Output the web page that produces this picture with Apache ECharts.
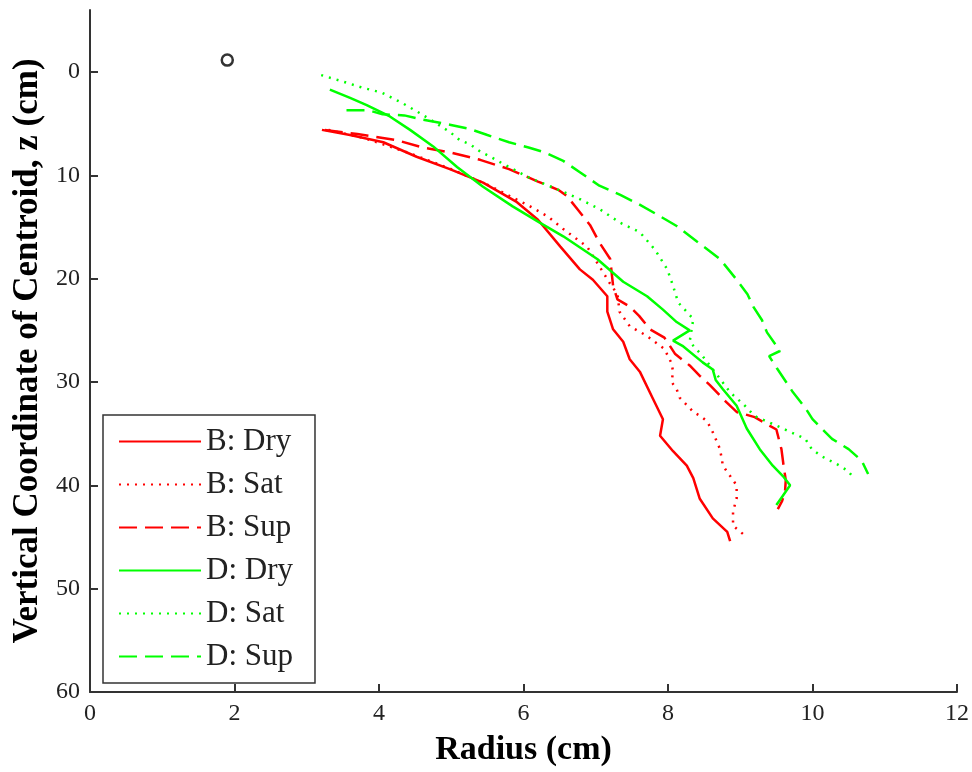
<!DOCTYPE html>
<html>
<head>
<meta charset="utf-8">
<script src="https://cdn.jsdelivr.net/npm/echarts@6/dist/echarts.min.js"></script>
<style>
html,body{margin:0;padding:0;background:#fff;}
#chart{width:972px;height:772px;}
</style>
</head>
<body>
<div id="chart"></div>
<script>
// Data: [radius (cm), vertical coordinate z (cm)]
const seriesNames = ['B: Dry', 'B: Sat', 'B: Sup', 'D: Dry', 'D: Sat', 'D: Sup'];

const bDry = [[3.21,5.6],[3.6,6.1],[4.06,6.8],[4.52,8.2],[4.98,9.4],[5.44,10.7],[5.91,12.6],[6.2,14.3],[6.51,16.9],[6.78,19.1],[6.96,20.1],[7.16,21.7],[7.16,23.2],[7.24,24.9],[7.38,26.1],[7.47,27.8],[7.61,29.0],[7.79,31.6],[7.93,33.6],[7.89,35.2],[8.07,36.7],[8.26,38.1],[8.35,39.3],[8.44,41.3],[8.62,43.2],[8.82,44.5],[8.86,45.4]];

const bSat = [[3.3,5.6],[3.8,6.4],[4.4,7.8],[5.0,9.4],[5.5,10.9],[5.81,12.0],[6.09,13.0],[6.34,14.0],[6.55,15.2],[6.88,16.9],[7.05,18.8],[7.2,20.5],[7.3,21.5],[7.33,23.2],[7.47,24.6],[7.7,25.5],[7.95,26.8],[8.05,28.2],[8.07,29.0],[8.05,30.0],[8.12,30.7],[8.16,31.5],[8.27,32.3],[8.35,32.9],[8.45,33.3],[8.54,33.8],[8.61,34.7],[8.72,36.5],[8.76,38.1],[8.86,39.1],[8.95,40.0],[8.95,41.3],[8.9,42.5],[8.9,43.9],[9.07,44.9]];

const bSup = [[3.25,5.6],[3.7,6.0],[4.25,6.6],[4.6,7.3],[5.0,7.8],[5.4,8.5],[5.8,9.4],[6.2,10.6],[6.48,11.4],[6.6,12.0],[6.75,13.3],[6.92,14.8],[7.05,16.5],[7.2,18.1],[7.24,20.7],[7.3,22.0],[7.47,22.7],[7.6,23.6],[7.75,24.9],[7.95,25.7],[8.1,27.3],[8.3,28.4],[8.44,29.4],[8.58,30.3],[8.8,31.9],[8.95,32.9],[9.2,33.4],[9.5,34.6],[9.57,36.5],[9.6,38.1],[9.63,39.5],[9.62,40.6],[9.58,41.5],[9.52,42.3]];

const dDry = [[3.32,1.7],[3.6,2.5],[3.83,3.2],[4.15,4.3],[4.43,5.6],[4.75,7.2],[5.08,9.2],[5.44,11.1],[5.85,13.0],[6.23,14.6],[6.55,15.9],[7.02,18.1],[7.38,20.3],[7.71,21.7],[7.93,23.0],[8.12,24.2],[8.3,25.0],[8.07,26.0],[8.2,26.5],[8.48,28.1],[8.62,28.8],[8.66,29.8],[8.76,30.7],[8.95,32.3],[9.09,34.5],[9.27,36.5],[9.45,38.1],[9.59,39.1],[9.69,40.0],[9.59,41.0],[9.5,41.9]];

const dSat = [[3.2,0.3],[3.49,0.9],[3.76,1.5],[4.04,2.0],[4.32,3.0],[4.57,4.0],[4.8,5.0],[4.98,5.8],[5.12,6.6],[5.26,7.0],[5.4,7.7],[5.54,8.2],[5.8,9.2],[6.1,10.3],[6.45,11.3],[6.78,12.3],[7.06,13.3],[7.34,14.6],[7.61,15.5],[7.82,17.2],[7.99,19.1],[8.07,20.7],[8.14,22.3],[8.35,23.9],[8.3,26.1],[8.48,27.5],[8.7,29.5],[8.86,31.0],[9.05,32.2],[9.2,33.3],[9.59,34.5],[9.9,35.5],[9.99,36.5],[10.13,37.2],[10.35,38.0],[10.49,38.6],[10.56,39.2]];

const dSup = [[3.55,3.7],[3.85,3.7],[4.05,4.1],[4.35,4.2],[4.6,4.6],[4.98,5.1],[5.25,5.5],[5.5,6.1],[5.8,6.8],[6.07,7.3],[6.3,7.8],[6.55,8.6],[6.78,9.7],[7.05,11.0],[7.34,11.9],[7.6,12.8],[7.85,13.8],[8.12,14.9],[8.4,16.4],[8.72,18.1],[8.95,20.1],[9.1,21.5],[9.18,22.7],[9.3,24.0],[9.37,25.2],[9.55,27.0],[9.4,27.5],[9.51,28.7],[9.73,31.0],[9.9,32.5],[10.0,33.6],[10.27,35.5],[10.5,36.5],[10.68,37.6],[10.77,38.9]];

const marker = [[1.9,-1.15]];

const xTicks = [0, 2, 4, 6, 8, 10, 12];
const zTicks = [0, 10, 20, 30, 40, 50, 60];

const RED = '#ff0000', GREEN = '#00ff00';
const SERIF = "'Liberation Serif','DejaVu Serif',serif";

function lineSeries(name, data, color, type) {
  return {
    name: name, type: 'line', data: data,
    symbol: 'none', showSymbol: false, smooth: false,
    lineStyle: {color: color, width: 2.5, type: type},
    itemStyle: {color: color},
    z: 3
  };
}
const DOT = [2, 6];
const DASH = [18, 8];

const chart = echarts.init(document.getElementById('chart'), null, {renderer: 'canvas'});
chart.setOption({
  animation: false,
  backgroundColor: '#fff',
  grid: {left: 90, right: 15, top: 10, bottom: 78, containLabel: false},
  xAxis: {
    type: 'value', min: xTicks[0], max: xTicks[xTicks.length - 1], interval: 2,
    name: 'Radius (cm)', nameLocation: 'middle', nameGap: 41,
    nameTextStyle: {fontFamily: SERIF, fontWeight: 'bold', fontSize: 34, color: '#000'},
    axisLine: {onZero: false, lineStyle: {color: '#333', width: 2}},
    axisTick: {inside: true, length: 8, lineStyle: {color: '#333', width: 2}},
    axisLabel: {fontFamily: SERIF, fontSize: 24, color: '#222', margin: 10},
    splitLine: {show: false}
  },
  yAxis: {
    type: 'value', inverse: true, min: -6, max: 60,
    name: 'Vertical Coordinate of Centroid, z (cm)', nameLocation: 'middle', nameGap: 43, nameRotate: 90,
    nameTextStyle: {fontFamily: SERIF, fontWeight: 'bold', fontSize: 35, color: '#000'},
    axisLine: {onZero: false, lineStyle: {color: '#333', width: 2}},
    axisTick: {inside: true, length: 8, customValues: zTicks, lineStyle: {color: '#333', width: 2}},
    axisLabel: {fontFamily: SERIF, fontSize: 24, color: '#222', margin: 10, customValues: zTicks},
    splitLine: {show: false}
  },
  legend: {
    data: seriesNames,
    orient: 'vertical', left: 103, top: 415,
    backgroundColor: '#fff', borderColor: '#333', borderWidth: 1.5, borderRadius: 0,
    padding: [11, 22, 11, 15],
    itemWidth: 82, itemHeight: 28, itemGap: 12,
    itemStyle: {opacity: 0},
    textStyle: {fontFamily: SERIF, fontSize: 31, color: '#222', padding: [0, 0, 0, 0]}
  },
  series: [
    lineSeries('B: Dry', bDry, RED, 'solid'),
    lineSeries('B: Sat', bSat, RED, DOT),
    lineSeries('B: Sup', bSup, RED, DASH),
    lineSeries('D: Dry', dDry, GREEN, 'solid'),
    lineSeries('D: Sat', dSat, GREEN, DOT),
    lineSeries('D: Sup', dSup, GREEN, DASH),
    {
      name: 'marker', type: 'scatter', data: marker,
      symbol: 'circle', symbolSize: 11,
      itemStyle: {color: '#fff', borderColor: '#000', borderWidth: 2.5},
      z: 4
    }
  ]
});
</script>
</body>
</html>
